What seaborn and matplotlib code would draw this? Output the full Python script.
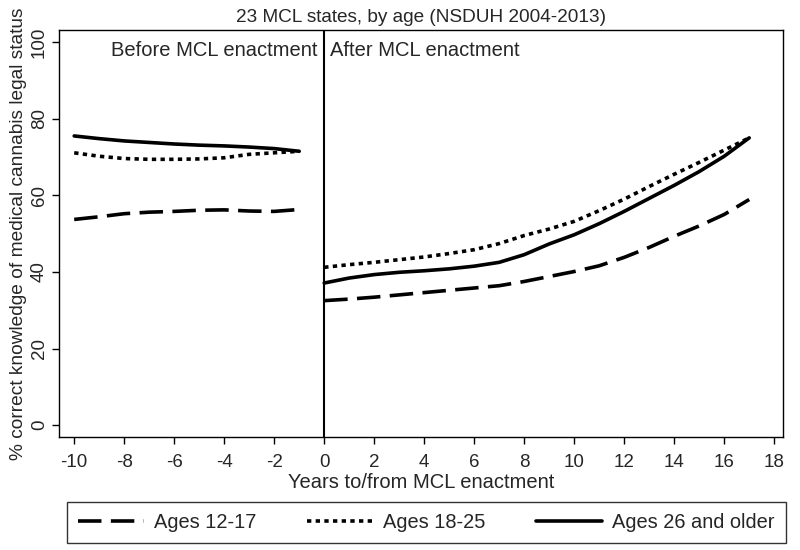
import matplotlib
matplotlib.use("Agg")
import matplotlib.pyplot as plt
import numpy as np
import pandas as pd
import seaborn as sns

# ---------------------------------------------------------------------------
# Data (years relative to MCL enactment)
# ---------------------------------------------------------------------------
years_before = [-10, -9, -8, -7, -6, -5, -4, -3, -2, -1]
years_after = [0, 1, 2, 3, 4, 5, 6, 7, 8, 9, 10, 11, 12, 13, 14, 15, 16, 17]

age_12_17_before = [53.7, 54.4, 55.2, 55.6, 55.8, 56.1, 56.2, 55.9, 55.8, 56.3]
age_18_25_before = [71.1, 70.2, 69.6, 69.4, 69.4, 69.5, 69.8, 70.7, 71.1, 71.5]
age_26_before = [75.5, 74.8, 74.2, 73.8, 73.4, 73.1, 72.9, 72.6, 72.2, 71.5]

age_12_17_after = [32.5, 32.9, 33.4, 34.0, 34.6, 35.2, 35.8, 36.4, 37.5, 38.8,
                   40.1, 41.6, 43.8, 46.4, 49.3, 52.0, 55.0, 58.9]
age_18_25_after = [41.2, 41.9, 42.5, 43.2, 43.9, 44.8, 45.8, 47.4, 49.5, 51.2,
                   53.2, 56.0, 59.0, 62.3, 65.5, 68.6, 71.8, 75.0]
age_26_after = [37.1, 38.4, 39.3, 39.9, 40.3, 40.8, 41.5, 42.5, 44.5, 47.3,
                49.7, 52.6, 55.8, 59.2, 62.6, 66.2, 70.2, 75.0]

groups = ["Ages 12-17", "Ages 18-25", "Ages 26 and older"]
series_before = [age_12_17_before, age_18_25_before, age_26_before]
series_after = [age_12_17_after, age_18_25_after, age_26_after]

rows = []
for g, vb, va in zip(groups, series_before, series_after):
    for x, v in zip(years_before, vb):
        rows.append({"year": x, "pct": v, "age": g, "period": "before"})
    for x, v in zip(years_after, va):
        rows.append({"year": x, "pct": v, "age": g, "period": "after"})
df = pd.DataFrame(rows)

# ---------------------------------------------------------------------------
# Plot
# ---------------------------------------------------------------------------
sns.set_style("ticks")
plt.rcParams["font.family"] = ["Liberation Sans", "DejaVu Sans"]
plt.rcParams["axes.unicode_minus"] = False  # plain hyphen like the original

fig = plt.figure(figsize=(8, 5.5), dpi=100)
ax = fig.add_axes([0.074, 0.2055, 0.905, 0.7395])

dash_styles = {
    "Ages 12-17": (6.5, 2.6),
    "Ages 18-25": (1.2, 1.2),
    "Ages 26 and older": "",
}
sns.lineplot(
    data=df, x="year", y="pct", hue="age", style="age", units="period",
    estimator=None, palette=["black"] * 3, dashes=dash_styles,
    hue_order=groups, style_order=groups, linewidth=2.6, ax=ax, sort=True,
)

ax.axvline(0, color="black", linewidth=1.5)

ax.set_xlim(-10.6, 18.36)
ax.set_ylim(-3.1, 103.1)
ax.set_xticks(np.arange(-10, 19, 2))
ax.set_yticks(np.arange(0, 101, 20))
ax.tick_params(axis="both", labelsize=13.5, length=5, width=1, color="black", pad=3)
ax.tick_params(axis="x", pad=7)
for lab in ax.get_yticklabels():
    lab.set_rotation(90)
    lab.set_va("center")
for s in ax.spines.values():
    s.set_linewidth(1)
    s.set_color("black")

ax.set_xlabel("Years to/from MCL enactment", fontsize=14.5, labelpad=2)
ax.set_ylabel("% correct knowledge of medical cannabis legal status", fontsize=13.8, labelpad=3)
ax.set_title("23 MCL states, by age (NSDUH 2004-2013)", fontsize=13.7, pad=6)

ax.text(-0.25, 97.8, "Before MCL enactment", ha="right", va="center", fontsize=14.5)
ax.text(0.25, 97.8, "After MCL enactment", ha="left", va="center", fontsize=14.5)

handles, labels = ax.get_legend_handles_labels()
ax.get_legend().remove()
fig.legend(
    handles, labels, loc="lower left", ncol=3, mode="expand",
    bbox_to_anchor=(0.084, 0.0127, 0.898, 0.069), fontsize=14.4,
    frameon=True, fancybox=False, edgecolor="black", handlelength=3.3,
    handletextpad=0.5, borderaxespad=0, borderpad=0.55, columnspacing=1.0,
)

fig.savefig("out.png", dpi=100)
